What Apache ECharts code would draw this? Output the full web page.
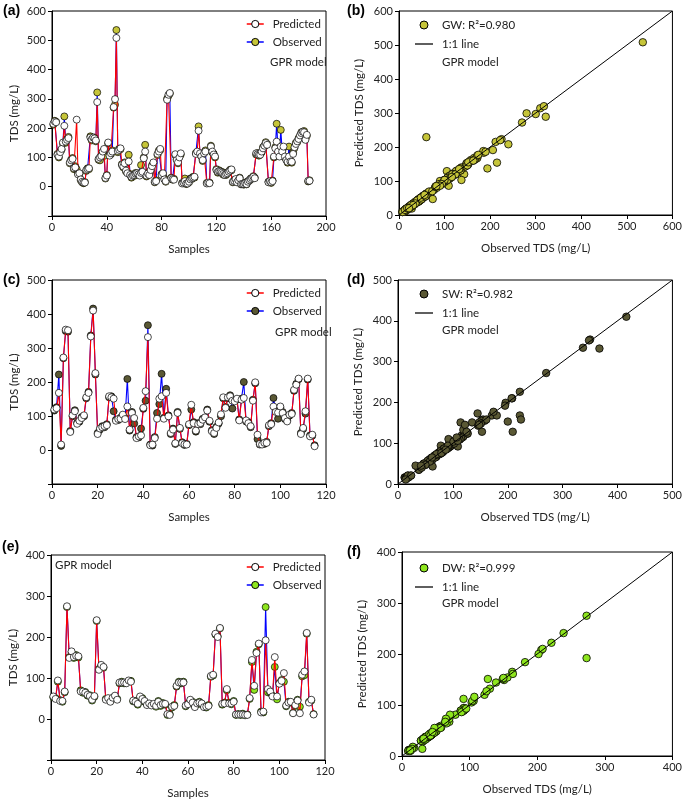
<!DOCTYPE html>
<html><head><meta charset="utf-8">
<script src="https://cdn.jsdelivr.net/npm/echarts@6/dist/echarts.min.js"></script>
<style>html,body{margin:0;padding:0;background:#fff}#c{width:685px;height:800px}</style>
</head><body><div id="c"></div>
<script>
// ---------- DATA ----------
const gwPred = [215,223,220,109,103,118,129,151,208,154,
 160,166,83,90,95,63,66,229,42,46,
 25,17,14,14,57,60,63,168,162,168,
 165,158,289,95,100,105,120,129,30,38,
 151,106,114,120,272,299,508,122,126,131,
 74,69,80,55,46,86,40,34,38,40,
 44,46,42,38,47,51,97,120,38,45,
 40,57,70,83,17,19,112,120,129,40,
 46,25,19,297,314,320,29,26,24,111,
 91,83,100,114,11,14,19,11,11,17,
 25,29,31,34,112,120,191,114,103,91,
 114,120,11,14,12,137,120,110,103,57,
 51,53,51,48,44,40,43,46,51,55,
 59,17,20,26,15,22,29,9,9,9,
 12,9,17,22,26,30,34,29,114,111,
 109,109,120,131,140,149,143,15,19,15,
 19,103,131,154,120,103,137,120,137,103,
 91,85,103,86,85,112,135,146,155,163,
 175,183,188,186,160,177,20,20];
const gwObs = [212,225,222,112,100,121,126,148,240,150,
 163,170,80,93,98,60,70,60,45,43,
 22,15,12,16,54,63,60,172,158,165,
 168,155,322,92,90,108,117,105,28,40,
 148,110,111,124,270,280,535,118,130,128,
 77,66,83,52,49,109,43,31,41,37,
 47,43,45,41,74,48,100,143,35,48,
 43,54,73,80,15,22,108,124,125,43,
 43,28,17,300,310,318,31,24,27,108,
 94,80,103,110,13,12,28,9,13,15,
 28,26,34,31,115,116,206,110,106,88,
 117,124,13,12,14,140,117,113,100,60,
 48,56,48,51,41,43,40,49,48,58,
 56,15,23,24,17,20,31,8,11,7,
 14,8,19,20,28,27,36,31,110,115,
 106,112,117,135,137,152,146,17,16,13,
 21,100,135,215,124,106,194,124,134,100,
 94,82,137,90,82,116,132,150,152,166,
 172,186,185,190,163,174,18,22];

const swPred = [119,123,168,16,272,354,352,53,102,114,
 77,86,94,102,155,168,334,410,226,47,
 63,67,70,73,158,155,151,86,91,92,
 104,91,128,60,109,94,35,40,43,124,
 173,332,14,16,35,92,151,158,92,168,
 99,50,60,20,109,65,20,17,16,76,
 133,79,57,76,79,89,96,116,86,55,
 50,65,81,105,155,124,155,158,145,143,
 151,87,148,153,87,79,70,145,199,45,
 18,16,21,21,73,76,128,112,110,128,
 109,94,84,104,106,177,192,210,47,65,
 114,210,40,45,11];
const swObs = [116,126,222,12,270,350,348,56,99,117,
 80,83,97,99,152,171,337,416,222,50,
 60,70,67,76,155,158,114,89,88,95,
 101,94,209,57,112,78,38,37,63,121,
 145,367,16,13,38,109,135,224,95,180,
 102,47,63,18,112,62,23,15,18,73,
 119,82,54,79,76,92,93,119,83,58,
 47,68,78,99,152,127,152,161,122,146,
 148,90,151,200,84,82,67,148,196,32,
 16,19,18,24,70,79,153,115,92,125,
 112,91,87,101,109,174,195,208,50,62,
 107,207,43,42,14];

const dwPred = [55,49,94,44,44,67,275,149,165,151,
 154,153,67,67,64,59,56,47,56,241,
 120,132,127,47,51,42,52,57,47,89,
 89,89,87,94,91,45,42,37,55,49,
 44,34,38,33,37,32,42,34,37,37,
 12,10,30,32,81,89,89,89,33,36,
 47,40,29,38,40,38,29,30,32,105,
 108,208,200,222,37,38,73,38,38,42,
 11,11,11,11,10,10,51,144,81,161,
 184,16,18,192,73,67,55,151,55,86,
 93,112,33,40,42,14,34,45,14,108,
 116,210,40,47,11];
const dwObs = [53,51,91,46,42,65,273,151,163,149,
 156,150,70,64,66,57,58,45,54,239,
 122,130,125,49,49,44,50,55,49,87,
 91,87,89,92,93,43,44,35,52,51,
 42,36,36,35,34,30,44,32,39,35,
 10,12,28,34,79,91,87,91,31,38,
 45,42,31,36,42,36,31,28,34,103,
 106,206,202,221,35,40,70,40,36,44,
 10,12,10,13,9,11,49,139,71,164,
 182,18,16,273,65,64,57,127,48,88,
 95,91,31,42,40,15,32,47,30,104,
 107,208,42,45,12];

const lineGW = [0, 600];
const lineSW = [0, 500];
const lineDW = [0, 400];

const panelLabels = ['(a)','(b)','(c)','(d)','(e)','(f)'];
const scatterNames = ['GW: R²=0.980','SW: R²=0.982','DW: R²=0.999'];

// ---------- STYLE ----------
const FONT = 'Lato';
const TXT = '#222';
const GW_C = '#c6c539', SW_C = '#5a5834', DW_C = '#8ee61e';

const grids = [
  {left:52, top:11, width:274, height:205},
  {left:399, top:11, width:274, height:204},
  {left:52, top:280, width:274, height:204},
  {left:398, top:280, width:275, height:204},
  {left:51, top:555, width:274, height:205},
  {left:402, top:552, width:273, height:204}
].map(g => Object.assign(g, {show:true, borderColor:'#000', borderWidth:1, backgroundColor:'transparent'}));

function xAx(gi, min, max, interval, name){
  return {type:'value', gridIndex:gi, min, max, interval, name, nameLocation:'middle', nameGap:27,
    nameTextStyle:{fontFamily:FONT, fontSize:11.5, color:TXT},
    axisLine:{show:true, onZero:false, lineStyle:{color:'#000', width:1}},
    axisTick:{show:true, length:4, lineStyle:{color:'#000'}},
    axisLabel:{fontFamily:FONT, fontSize:11, color:TXT, margin:6},
    splitLine:{show:false}};
}
function yAx(gi, min, max, interval, name, gap){
  return {type:'value', gridIndex:gi, min, max, interval, name, nameLocation:'middle', nameGap:gap,
    nameTextStyle:{fontFamily:FONT, fontSize:11.5, color:TXT},
    axisLine:{show:true, onZero:false, lineStyle:{color:'#000', width:1}},
    axisTick:{show:true, length:4, lineStyle:{color:'#000'}},
    axisLabel:{fontFamily:FONT, fontSize:11, color:TXT, margin:6, formatter: v => v < 0 ? '' : String(v)},
    splitLine:{show:false}};
}

const xAxis = [
  xAx(0, 0, 200, 40, 'Samples'),
  xAx(1, 0, 600, 100, 'Observed TDS (mg/L)'),
  xAx(2, 0, 120, 20, 'Samples'),
  xAx(3, 0, 500, 100, 'Observed TDS (mg/L)'),
  xAx(4, 0, 120, 20, 'Samples'),
  xAx(5, 0, 400, 100, 'Observed TDS (mg/L)')
];
const yAxis = [
  yAx(0, -100, 600, 100, 'TDS (mg/L)', 32),
  yAx(1, 0, 600, 100, 'Predicted TDS (mg/L)', 34),
  yAx(2, -100, 500, 100, 'TDS (mg/L)', 32),
  yAx(3, 0, 500, 100, 'Predicted TDS (mg/L)', 34),
  yAx(4, -100, 400, 100, 'TDS (mg/L)', 32),
  yAx(5, 0, 400, 100, 'Predicted TDS (mg/L)', 34)
];

const series = [];
function tsPanel(tag, gi, pred, obs, col){
  series.push({type:'line', name:'Observed ('+tag+')', xAxisIndex:gi, yAxisIndex:gi,
    data: obs.map((v,i)=>[i+1, v]), symbol:'circle', symbolSize:7, z:2, color:col,
    lineStyle:{color:'#0000ff', width:1.1}, itemStyle:{color:col, borderColor:'#000', borderWidth:0.7}, animation:false});
  series.push({type:'line', name:'Predicted ('+tag+')', xAxisIndex:gi, yAxisIndex:gi,
    data: pred.map((v,i)=>[i+1, v]), symbol:'circle', symbolSize:7, z:3, color:'#fff',
    lineStyle:{color:'#ff0000', width:1.1}, itemStyle:{color:'#fff', borderColor:'#000', borderWidth:0.7}, animation:false});
}
function scPanel(tag, gi, pred, obs, col, name, line){
  series.push({type:'scatter', name:name, xAxisIndex:gi, yAxisIndex:gi,
    data: obs.map((o,i)=>[o, pred[i]]), symbol:'circle', symbolSize:7.5, z:2, color:col,
    itemStyle:{color:col, borderColor:'#000', borderWidth:0.8, opacity:1}, animation:false});
  series.push({type:'line', name:'1:1 line ('+tag+')', xAxisIndex:gi, yAxisIndex:gi,
    data: line.map(v=>[v, v]), symbol:'none', z:3, color:'#000',
    lineStyle:{color:'#000', width:1}, itemStyle:{color:'#000'}, animation:false});
}
tsPanel('a', 0, gwPred, gwObs, GW_C);
scPanel('b', 1, gwPred, gwObs, GW_C, scatterNames[0], lineGW);
tsPanel('c', 2, swPred, swObs, SW_C);
scPanel('d', 3, swPred, swObs, SW_C, scatterNames[1], lineSW);
tsPanel('e', 4, dwPred, dwObs, DW_C);
scPanel('f', 5, dwPred, dwObs, DW_C, scatterNames[2], lineDW);

const fmt = n => n.replace(/ \([a-f]\)$/, '');
const LINE_ICON = 'path://M0,0H20V1.4H0Z';
function tsLegend(left, top, tag, col){
  return {left, top, orient:'vertical', itemWidth:17, itemHeight:9, itemGap:6, formatter:fmt,
    selectedMode:false, padding:0, textStyle:{fontFamily:FONT, fontSize:11.5, color:TXT, padding:[0,0,0,4]},
    data:[
      {name:'Predicted ('+tag+')', itemStyle:{color:'#fff', borderColor:'#000', borderWidth:1}, lineStyle:{color:'#ff0000', width:1.5}},
      {name:'Observed ('+tag+')', itemStyle:{color:col, borderColor:'#000', borderWidth:1}, lineStyle:{color:'#0000ff', width:1.5}}
    ]};
}
function scLegend(left, top, tag, name, col){
  return {left, top, orient:'vertical', itemWidth:18, itemHeight:8, itemGap:7, formatter:fmt,
    selectedMode:false, padding:0, textStyle:{fontFamily:FONT, fontSize:11.5, color:TXT, padding:[0,0,0,4]},
    data:[
      {name:name, icon:'circle', itemStyle:{color:col, borderColor:'#000', borderWidth:1}},
      {name:'1:1 line ('+tag+')', icon:LINE_ICON, itemStyle:{color:'#000', borderWidth:0}}
    ]};
}
const legend = [
  tsLegend(246, 18, 'a', GW_C),
  scLegend(415, 19, 'b', scatterNames[0], GW_C),
  tsLegend(246, 287, 'c', SW_C),
  scLegend(415, 288, 'd', scatterNames[1], SW_C),
  tsLegend(246, 561, 'e', DW_C),
  scLegend(415, 562, 'f', scatterNames[2], DW_C)
];

const txt = (x, y, t, size, bold) => ({type:'text', left:x, top:y, silent:true,
  style:{text:t, fill:bold ? '#000' : TXT, font:(bold?'bold ':'')+size+'px '+(bold?'"Liberation Sans", Arial':FONT)}});
const graphic = [
  txt(3, 4, panelLabels[0], 14, true),
  txt(347, 4, panelLabels[1], 14, true),
  txt(3, 273, panelLabels[2], 14, true),
  txt(347, 273, panelLabels[3], 14, true),
  txt(2, 540, panelLabels[4], 14, true),
  txt(347, 545, panelLabels[5], 14, true),
  txt(270, 56, 'GPR model', 11.5, false),
  txt(275, 326, 'GPR model', 11.5, false),
  txt(55, 559, 'GPR model', 11.5, false),
  txt(442, 56, 'GPR model', 11.5, false),
  txt(442, 324, 'GPR model', 11.5, false),
  txt(442, 597, 'GPR model', 11.5, false)
];

const chart = echarts.init(document.getElementById('c'), null, {renderer:'canvas'});
chart.setOption({animation:false, backgroundColor:'#fff', grid:grids, xAxis, yAxis, series, legend, graphic});
</script></body></html>
